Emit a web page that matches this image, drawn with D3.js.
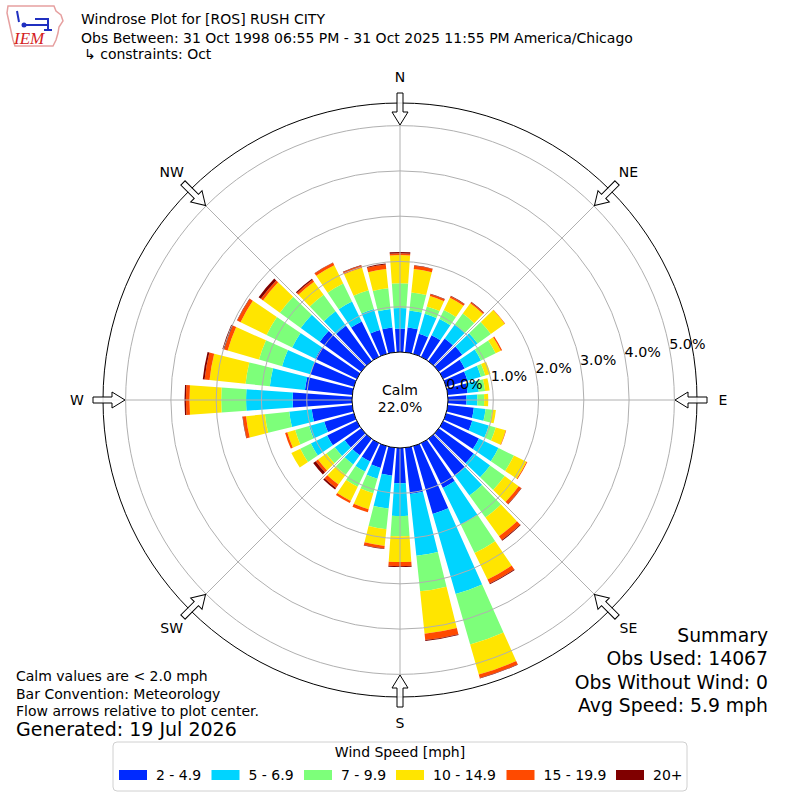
<!DOCTYPE html>
<html>
<head>
<meta charset="utf-8">
<title>Windrose Plot</title>
<script src="https://d3js.org/d3.v7.min.js"></script>
<style>
  body { margin: 0; background: #fff; }
  text { font-family: "DejaVu Sans", sans-serif; fill: #000; }
  .grid { fill: none; stroke: #b0b0b0; stroke-width: 1; }
</style>
</head>
<body>
<svg id="chart" width="800" height="800"></svg>
<script>
// direction bins (degrees, meteorological: where wind blows from)
var directions = [0, 10, 20, 30, 40, 50, 60, 70, 80, 90, 100, 110,
                  120, 130, 140, 150, 160, 170, 180, 190, 200, 210, 220, 230,
                  240, 250, 260, 270, 280, 290, 300, 310, 320, 330, 340, 350];

// percent of observations per direction, one array per speed class
var spd2to5 = [0.52, 0.55, 0.46, 0.53, 0.62, 0.64, 0.53, 0.49, 0.44, 0.41, 0.58, 0.60,
               0.88, 0.95, 1.00, 1.10, 1.56, 1.03, 0.78, 0.62, 0.50, 0.45, 0.45, 0.45,
               0.73, 0.68, 0.90, 1.31, 1.05, 1.00, 1.02, 1.13, 0.97, 0.87, 0.55, 0.55];
var spd5to7 = [0.45, 0.38, 0.46, 0.40, 0.38, 0.42, 0.40, 0.31, 0.25, 0.24, 0.26, 0.38,
               0.48, 0.45, 0.55, 0.90, 1.84, 1.37, 0.72, 0.73, 0.25, 0.25, 0.25, 0.27,
               0.40, 0.35, 0.50, 1.03, 0.78, 0.65, 0.57, 0.52, 0.39, 0.49, 0.48, 0.41];
var spd7to10 = [0.55, 0.40, 0.17, 0.22, 0.30, 0.36, 0.36, 0.10, 0.14, 0.15, 0.15, 0.16,
                0.38, 0.40, 0.60, 0.70, 1.16, 0.79, 0.45, 0.46, 0.33, 0.37, 0.28, 0.23,
                0.26, 0.32, 0.54, 0.55, 0.54, 0.53, 0.63, 0.57, 0.45, 0.44, 0.43, 0.46];
var spd10to15 = [0.62, 0.52, 0.24, 0.30, 0.28, 0.38, 0.13, 0.12, 0.10, 0.09, 0.08, 0.23,
                 0.31, 0.38, 0.51, 0.65, 0.69, 0.94, 0.57, 0.37, 0.37, 0.35, 0.27, 0.23,
                 0.22, 0.18, 0.42, 0.70, 0.80, 0.72, 0.64, 0.46, 0.36, 0.45, 0.52, 0.43];
var spd15to20 = [0.04, 0.07, 0.04, 0.04, 0.03, 0.01, 0.03, 0.00, 0.00, 0.00, 0.00, 0.01,
                 0.02, 0.07, 0.10, 0.10, 0.08, 0.14, 0.09, 0.06, 0.07, 0.05, 0.09, 0.06,
                 0.00, 0.05, 0.07, 0.08, 0.11, 0.08, 0.08, 0.06, 0.05, 0.06, 0.05, 0.10];
var spd20plus = [0.03, 0.01, 0.01, 0.01, 0.01, 0.00, 0.00, 0.00, 0.00, 0.00, 0.00, 0.00,
                 0.00, 0.01, 0.02, 0.02, 0.01, 0.02, 0.02, 0.01, 0.00, 0.00, 0.04, 0.07,
                 0.00, 0.00, 0.01, 0.03, 0.04, 0.04, 0.01, 0.06, 0.03, 0.01, 0.01, 0.02];

var speedLabels = ['2 - 4.9', '5 - 6.9', '7 - 9.9', '10 - 14.9', '15 - 19.9', '20+'];
var speedColors = ['#002aff', '#00d4ff', '#7dff7a', '#ffe500', '#ff4a00', '#800000'];

var pctTicks = [0, 1, 2, 3, 4, 5];
var compassNames = ['N', 'NE', 'E', 'SE', 'S', 'SW', 'W', 'NW'];
var compassAngles = [0, 45, 90, 135, 180, 225, 270, 315];

var calmPct = 22.0;
var titleLines = ['Windrose Plot for [ROS] RUSH CITY',
                  'Obs Between: 31 Oct 1998 06:55 PM - 31 Oct 2025 11:55 PM America/Chicago',
                  '\u21b3 constraints: Oct'];
var noteLines = ['Calm values are < 2.0 mph', 'Bar Convention: Meteorology',
                 'Flow arrows relative to plot center.'];
var generated = 'Generated: 19 Jul 2026';
var summaryLines = ['Summary', 'Obs Used: 14067', 'Obs Without Wind: 0', 'Avg Speed: 5.9 mph'];

var svg = d3.select('#chart');
svg.append('rect').attr('width', 800).attr('height', 800).attr('fill', '#fff');

var cx = 400, cy = 400;
var g = svg.append('g').attr('transform', 'translate(' + cx + ',' + cy + ')');

var r = d3.scaleLinear().domain([0, 5.5]).range([48, 297]);
var ang = d3.scaleLinear().domain([0, 360]).range([0, 2 * Math.PI]);
var halfWidth = 4; // degrees

var keys = ['s0', 's1', 's2', 's3', 's4', 's5'];
var series = [spd2to5, spd5to7, spd7to10, spd10to15, spd15to20, spd20plus];
var rows = directions.map(function (d, i) {
    var row = { dir: d };
    keys.forEach(function (k, j) { row[k] = series[j][i]; });
    return row;
});
var stacked = d3.stack().keys(keys)(rows);

var arc = d3.arc()
    .innerRadius(function (d) { return r(d[0]); })
    .outerRadius(function (d) { return r(d[1]); })
    .startAngle(function (d) { return ang(d.data.dir - halfWidth); })
    .endAngle(function (d) { return ang(d.data.dir + halfWidth); });

g.selectAll('g.layer')
    .data(stacked)
    .enter().append('g')
    .attr('class', 'layer')
    .attr('fill', function (d, i) { return speedColors[i]; })
    .selectAll('path')
    .data(function (d) { return d.filter(function (e) { return e[1] - e[0] > 0; }); })
    .enter().append('path')
    .attr('d', arc);

// grid rings and spokes (over the bars)
g.selectAll('circle.ring')
    .data(pctTicks.slice(1))
    .enter().append('circle')
    .attr('class', 'grid')
    .attr('r', function (d) { return r(d); });

g.selectAll('line.spoke')
    .data(compassAngles)
    .enter().append('line')
    .attr('class', 'grid')
    .attr('x1', function (d) { return r(0) * Math.sin(ang(d)); })
    .attr('y1', function (d) { return -r(0) * Math.cos(ang(d)); })
    .attr('x2', function (d) { return r(5.5) * Math.sin(ang(d)); })
    .attr('y2', function (d) { return -r(5.5) * Math.cos(ang(d)); });

// outer frame
g.append('circle').attr('r', r(5.5)).attr('fill', 'none').attr('stroke', '#000').attr('stroke-width', 1);

// calm circle
g.append('circle').attr('r', r(0)).attr('fill', '#fff').attr('stroke', '#000').attr('stroke-width', 1);
g.append('text').attr('y', -5).attr('text-anchor', 'middle').style('font-size', '14px').text('Calm');
g.append('text').attr('y', 12).attr('text-anchor', 'middle').style('font-size', '14px')
    .text(calmPct.toFixed(1) + '%');

// radial labels
var labAng = ang(80);
g.selectAll('text.rlab')
    .data(pctTicks)
    .enter().append('text')
    .attr('x', function (d) { return r(d) * Math.sin(labAng) - 1; })
    .attr('y', function (d) { return -r(d) * Math.cos(labAng) - 3; })
    .style('font-size', '14.3px')
    .text(function (d) { return d.toFixed(1) + '%'; });

// flow arrows
var arrowPath = 'M-3,-307 L3,-307 L3,-288 L8,-288 L0,-275 L-8,-288 L-3,-288 Z';
g.selectAll('path.arrow')
    .data(compassAngles)
    .enter().append('path')
    .attr('d', arrowPath)
    .attr('transform', function (d) { return 'rotate(' + d + ')'; })
    .attr('fill', '#fff')
    .attr('fill-opacity', 0.85)
    .attr('stroke', '#000')
    .attr('stroke-width', 1);

// compass labels
g.selectAll('text.compass')
    .data(compassNames)
    .enter().append('text')
    .attr('x', function (d, i) { return 323 * Math.sin(ang(compassAngles[i])); })
    .attr('y', function (d, i) { return -323 * Math.cos(ang(compassAngles[i])); })
    .attr('dy', '0.36em')
    .attr('text-anchor', 'middle')
    .style('font-size', '14px')
    .text(function (d) { return d; });

// header
svg.selectAll('text.title')
    .data(titleLines)
    .enter().append('text')
    .attr('x', function (d, i) { return i === 2 ? 84 : 81; })
    .attr('y', function (d, i) { return [24, 43, 59][i]; })
    .style('font-size', '14px')
    .text(function (d) { return d; });

// IEM logo (rough)
var logo = svg.append('g');
logo.append('path')
    .attr('d', 'M8,6 L54,6 L56,11 L61,15 L63,21 L59,27 L58,33 L56,40 L53,46 L15,46 L13,40 L11,31 L9,22 L7,13 Z')
    .attr('fill', 'none').attr('stroke', '#e6a0a0').attr('stroke-width', 1.5);
logo.append('line').attr('x1', 22).attr('y1', 25).attr('x2', 48).attr('y2', 25)
    .attr('stroke', '#2030c0').attr('stroke-width', 2);
logo.append('circle').attr('cx', 24).attr('cy', 25).attr('r', 2.5).attr('fill', '#2030c0');
logo.append('path').attr('d', 'M17,11 L19,22 M35,19 L48,19 L48,30 M44,30 L52,30')
    .attr('fill', 'none').attr('stroke', '#2030c0').attr('stroke-width', 2);
logo.append('text').attr('x', 14).attr('y', 44)
    .style('font-family', '"Liberation Serif", serif').style('font-style', 'italic')
    .style('font-size', '17px').style('fill', '#d42020').text('IEM');

// notes, bottom left
svg.selectAll('text.note')
    .data(noteLines)
    .enter().append('text')
    .attr('x', 16)
    .attr('y', function (d, i) { return 681 + i * 17.5; })
    .style('font-size', '14px')
    .text(function (d) { return d; });
svg.append('text').attr('x', 16).attr('y', 736).style('font-size', '19px').text(generated);

// summary, bottom right
svg.selectAll('text.summary')
    .data(summaryLines)
    .enter().append('text')
    .attr('x', 768)
    .attr('y', function (d, i) { return 642 + i * 23.3; })
    .attr('text-anchor', 'end')
    .style('font-size', '18.8px')
    .text(function (d) { return d; });

// legend
var leg = svg.append('g');
leg.append('rect').attr('x', 113).attr('y', 742).attr('width', 574).attr('height', 49)
    .attr('rx', 4).attr('fill', '#fff').attr('stroke', '#d0d0d0');
leg.append('text').attr('x', 400).attr('y', 757).attr('text-anchor', 'middle')
    .style('font-size', '14px').text('Wind Speed [mph]');
var legX = [119, 211.5, 304, 396, 506.5, 616];
var items = leg.selectAll('g.item')
    .data(speedLabels)
    .enter().append('g')
    .attr('transform', function (d, i) { return 'translate(' + legX[i] + ',770)'; });
items.append('rect').attr('width', 28).attr('height', 10)
    .attr('fill', function (d, i) { return speedColors[i]; });
items.append('text').attr('x', 37).attr('y', 10).style('font-size', '14px')
    .text(function (d) { return d; });
</script>
</body>
</html>
